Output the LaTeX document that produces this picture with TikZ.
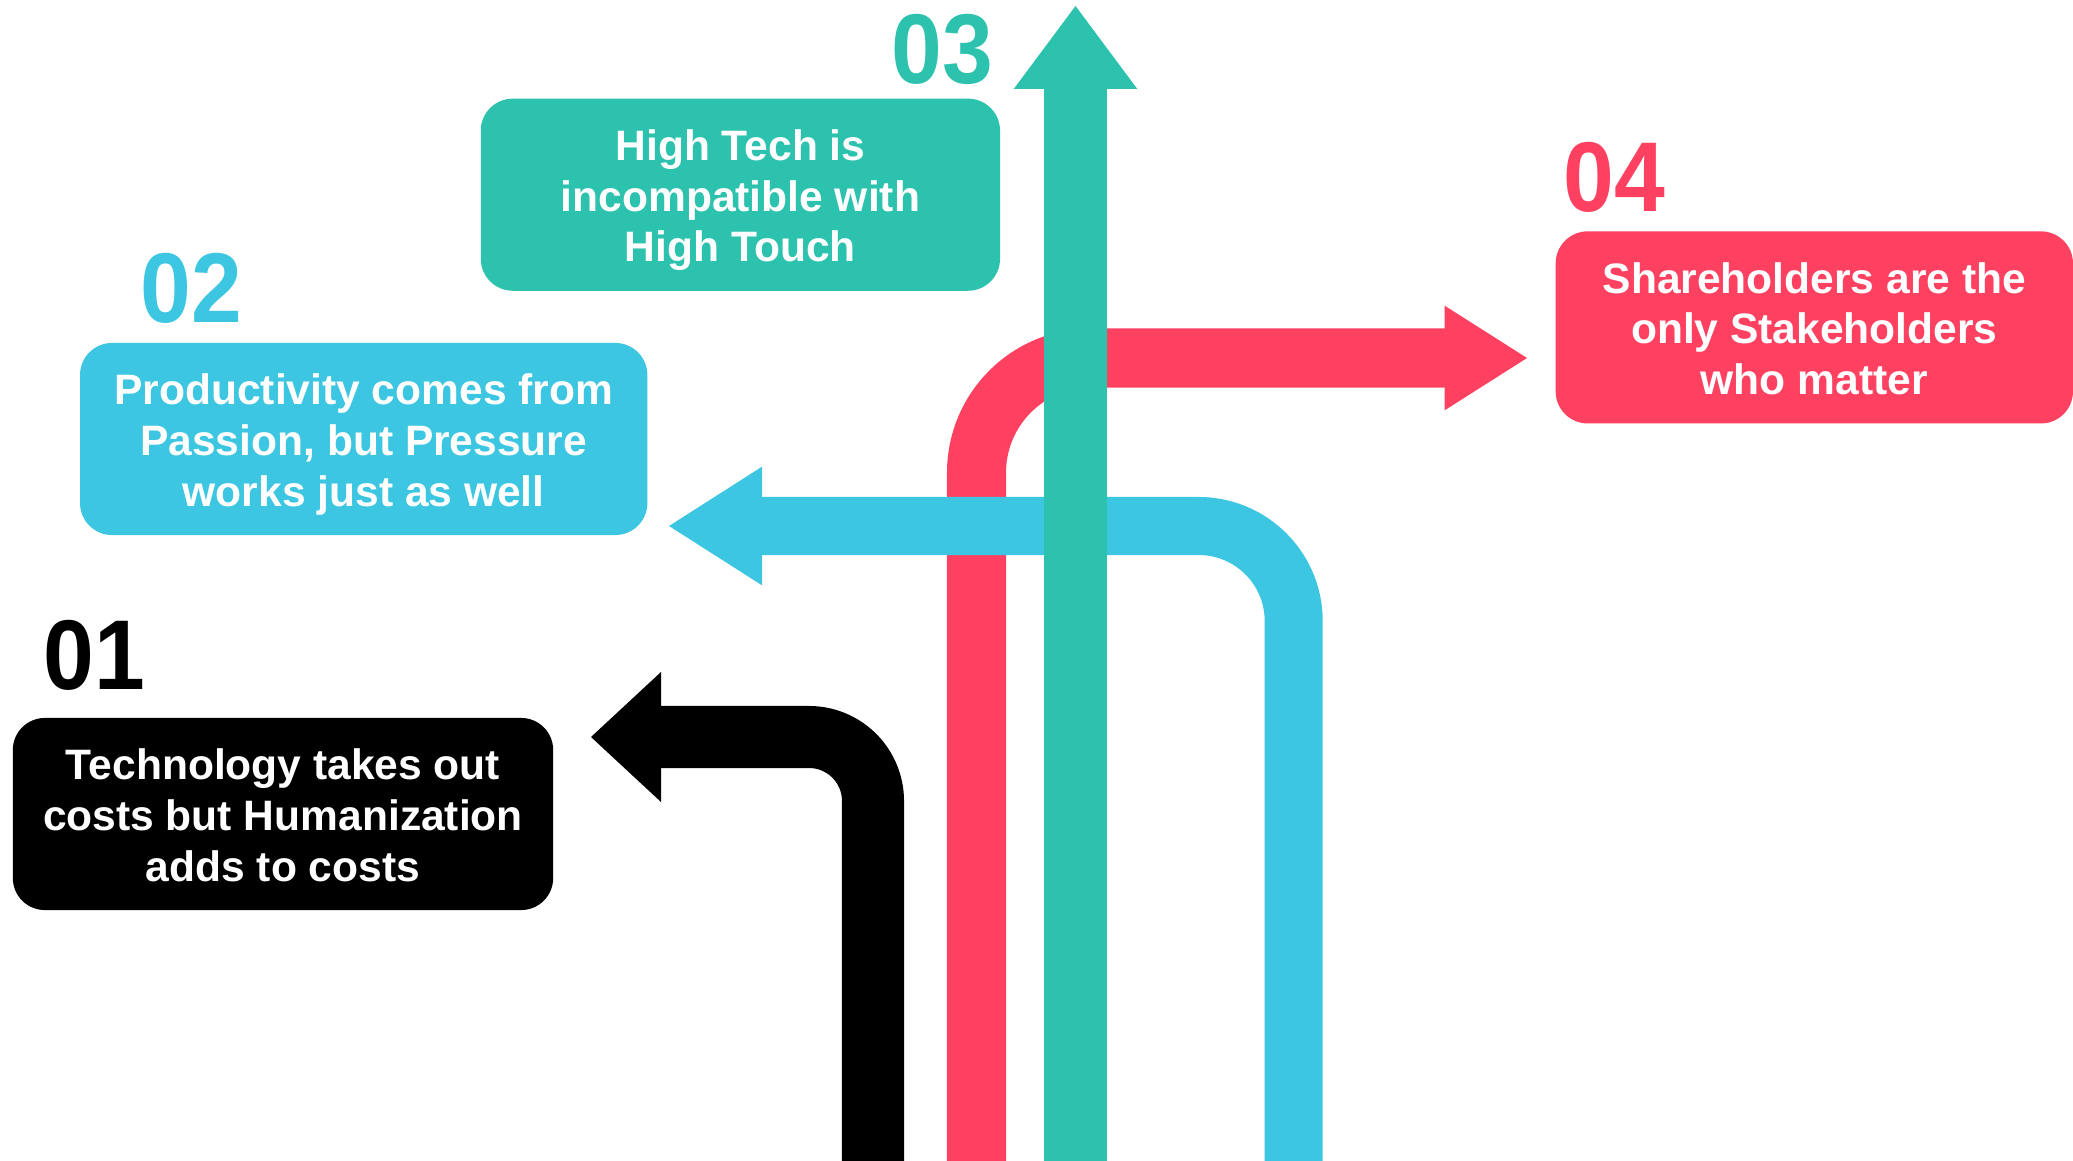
\documentclass[tikz,border=0pt]{standalone}
\usepackage{fontspec}
\setmainfont{Liberation Sans}
\newfontfamily\numfont{Liberation Sans Bold}[FakeStretch=0.92]
\usetikzlibrary{calc}

\definecolor{techblack}{HTML}{000000}
\definecolor{passionblue}{HTML}{3CC6E1}
\definecolor{touchteal}{HTML}{2CC2AE}
\definecolor{stakepink}{HTML}{FF4161}

% struts for the first and the last line of a box
\newcommand{\firstline}{\rule{0pt}{0.45cm}}
\newcommand{\lastline}{\rule[-0.12cm]{0pt}{0.12cm}}

\begin{document}
\begin{tikzpicture}[x=0.01cm,y=-0.01cm,
    infobox/.style={rounded corners=0.32cm, minimum height=1.92cm, inner sep=0pt,
      text=white, align=center, font=\fontsize{12.1pt}{14.4pt}\selectfont\bfseries},
    numlabel/.style={anchor=base west, inner sep=0pt, font=\fontsize{28.2pt}{30pt}\numfont},
    shaft/.style={line cap=butt, line join=round}]
  \useasboundingbox (0,0) rectangle (2073,1161);

  % Statement boxes
  \node[infobox, fill=techblack, minimum width=5.40cm] (tech) at (283,814)
    {\firstline Technology takes out\\costs but Humanization\\adds to costs\lastline};
  \node[infobox, fill=passionblue, minimum width=5.67cm] (passion) at (363.7,439)
    {\firstline Productivity comes from\\Passion, but Pressure\\works just as well\lastline};
  \node[infobox, fill=touchteal, minimum width=5.19cm] (touch) at (740.4,194.7)
    {\firstline High Tech is\\incompatible with\\High Touch\lastline};
  \node[infobox, fill=stakepink, minimum width=5.17cm] (stake) at (1814.3,327.4)
    {\firstline Shareholders are the\\only Stakeholders\\who matter\lastline};

  % Numbers
  \node[numlabel, text=techblack] (num1) at (43,689) {01};
  \node[numlabel, text=passionblue] (num2) at (140,323) {02};
  \node[numlabel, text=touchteal] (num3) at (891,84) {03};
  \node[numlabel, text=stakepink] (num4) at (1563,212) {04};

  % Arrow end points
  \coordinate (tech-in) at (873,1161);
  \coordinate (tech-base) at (661,737);
  \coordinate (tech-tip) at (591,737);
  \coordinate (stake-in) at (976.5,1161);
  \coordinate (stake-base) at (1444.5,358);
  \coordinate (stake-tip) at (1527,358);
  \coordinate (passion-in) at (1293.7,1161);
  \coordinate (passion-base) at (762,526);
  \coordinate (passion-tip) at (669,526);
  \coordinate (touch-in) at (1075.5,1161);
  \coordinate (touch-base) at (1075.5,89);
  \coordinate (touch-tip) at (1075.5,6);

  % 01 arrow
  \draw[techblack, shaft, line width=0.62cm, rounded corners=0.64cm]
    (tech-in) |- ($(tech-base)+(-4,0)$);
  \fill[techblack] ($(tech-base)+(0,-65)$) -- (tech-tip) -- ($(tech-base)+(0,65)$) -- cycle;

  % 04 arrow
  \draw[stakepink, shaft, line width=0.59cm, rounded corners=1.145cm]
    (stake-in) |- ($(stake-base)+(4,0)$);
  \fill[stakepink] ($(stake-base)+(0,-52.4)$) -- (stake-tip) -- ($(stake-base)+(0,52.4)$) -- cycle;

  % 02 arrow
  \draw[passionblue, shaft, line width=0.58cm, rounded corners=0.95cm]
    (passion-in) |- ($(passion-base)+(-4,0)$);
  \fill[passionblue] ($(passion-base)+(0,-59.3)$) -- (passion-tip) -- ($(passion-base)+(0,59.3)$) -- cycle;

  % 03 arrow
  \draw[touchteal, shaft, line width=0.62cm] (touch-in) -- ($(touch-base)+(0,-4)$);
  \fill[touchteal] ($(touch-base)+(-61.8,0)$) -- (touch-tip) -- ($(touch-base)+(61.8,0)$) -- cycle;
\end{tikzpicture}
\end{document}
